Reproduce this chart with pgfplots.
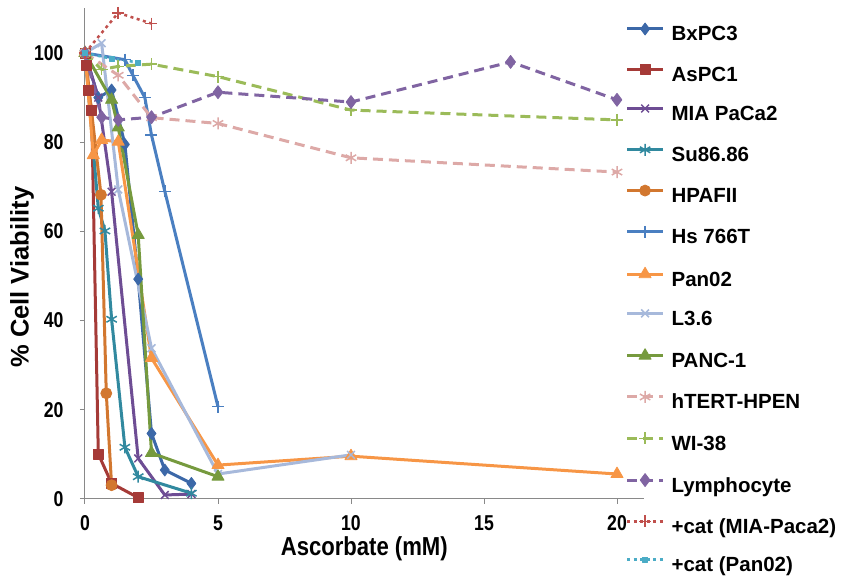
\documentclass[border=0pt]{standalone}
\usepackage{fontspec}
\setmainfont{Liberation Sans}
\newfontfamily\tickfont[FakeStretch=0.82]{Liberation Sans}
\newfontfamily\labfont[FakeStretch=0.85]{Liberation Sans}
\usepackage{pgfplots}
\pgfplotsset{compat=1.18}
\definecolor{axgray}{HTML}{898989}
\definecolor{cBx}{HTML}{3C68A8}
\definecolor{cAs}{HTML}{A53A37}
\definecolor{cMIA}{HTML}{6E4D94}
\definecolor{cSu}{HTML}{31899F}
\definecolor{cHP}{HTML}{D2772F}
\definecolor{cHs}{HTML}{4A7FC1}
\definecolor{cPan}{HTML}{F79646}
\definecolor{cL}{HTML}{A7B9DB}
\definecolor{cPANC}{HTML}{769A3E}
\definecolor{chT}{HTML}{DDA9A7}
\definecolor{cWI}{HTML}{9BBB59}
\definecolor{cLy}{HTML}{8064A2}
\definecolor{cCM}{HTML}{C0504D}
\definecolor{cCP}{HTML}{4BACC6}
\begin{document}
\begin{tikzpicture}
\useasboundingbox (0,0) rectangle (844pt,580pt);
\begin{axis}[
  at={(85pt,81pt)}, anchor=south west,
  x=26.6pt, y=4.46pt,
  xmin=0, xmax=21, ymin=0, ymax=110,
  axis x line*=bottom, axis y line*=left,
  axis line style={draw=axgray, line width=1pt},
  xtick={0,5,10,15,20}, ytick={0,20,40,60,80,100},
  tick align=outside, major tick length=5pt,
  tick style={draw=axgray, line width=1pt},
  ticklabel style={font=\tickfont\bfseries\fontsize{21.5}{21.5}\selectfont},
  yticklabel style={xshift=-13pt},
  xticklabel style={yshift=-8pt},
  /pgf/number format/assume math mode=true,
  clip=false,
  xlabel={Ascorbate (mM)},
  ylabel={\% Cell Viability},
  xlabel style={at={(rel axis cs:0.5,0)}, anchor=center, yshift=-50pt, font=\labfont\bfseries\fontsize{26}{26}\selectfont},
  ylabel style={at={(rel axis cs:0,0.452)}, anchor=center, yshift=63pt, font=\bfseries\fontsize{25.5}{25.5}\selectfont},
  legend cell align=left,
  legend style={at={(rel axis cs:0.974,1)}, anchor=north west, yshift=-14.6pt, xshift=-3.5pt,
    draw=none, fill=none, inner sep=0pt, outer sep=0pt,
    row sep=18.3pt, column sep=7pt,
    nodes={inner sep=0pt, text height=15pt, text depth=5pt, font=\bfseries\fontsize{20.5}{20.5}\selectfont}},
  legend image code/.code={\draw[mark repeat=2,mark phase=2,#1] plot coordinates {(0pt,7pt) (18pt,7pt) (36pt,7pt)};},
  every axis plot/.append style={line width=3pt, line join=round},
]
% BxPC3
\addplot[color=cBx, mark=diamond*, mark size=6pt, mark options={solid, line width=0.8pt}]
 coordinates {(0,100) (0.5,90) (1,91.7) (1.5,79.5) (2,49.3) (2.5,14.7) (3,6.5) (4,3.5)};
\addlegendentry{BxPC3}
% AsPC1
\addplot[color=cAs, mark=square*, mark size=5pt, mark options={solid, line width=0.8pt}]
 coordinates {(0,100) (0.0625,97.3) (0.125,91.7) (0.25,87.2) (0.5,10.1) (1,3.5) (2,0.3)};
\addlegendentry{AsPC1}
% MIA PaCa2
\addplot[color=cMIA, mark=x, mark size=5.5pt, mark options={solid, line width=1.5pt}]
 coordinates {(0,100) (0.5,90) (1,68.9) (2,9.1) (3,0.9) (4,1.1)};
\addlegendentry{MIA PaCa2}
% Su86.86
\addplot[color=cSu, mark=asterisk, mark size=6pt, mark options={solid, line width=1.5pt}]
 coordinates {(0,100) (0.5,65.2) (0.75,60.1) (1,40.3) (1.5,11.6) (2,5.0) (4,1.3)};
\addlegendentry{Su86.86}
% HPAFII
\addplot[color=cHP, mark=*, mark size=5.5pt, mark options={solid, line width=0.8pt}]
 coordinates {(0,100) (0.6,68.2) (0.8,23.7) (1,3.1)};
\addlegendentry{HPAFII}
% Hs 766T
\addplot[color=cHs, mark=+, mark size=6pt, mark options={solid, line width=1.5pt}]
 coordinates {(0,100) (1.5,98.5) (1.8,95) (2.25,90) (2.5,81.6) (3,69) (5,20.7)};
\addlegendentry{Hs 766T}
% Pan02
\addplot[color=cPan, mark=triangle*, mark size=7pt, mark options={solid, line width=0.8pt}]
 coordinates {(0,100) (0.3125,77.1) (0.625,80.5) (1.25,80.1) (2.5,31.6) (5,7.6) (10,9.6) (20,5.6)};
\addlegendentry{Pan02}
% L3.6
\addplot[color=cL, mark=x, mark size=5.5pt, mark options={solid, line width=1.5pt}]
 coordinates {(0,100) (0.625,102.2) (1.25,69.4) (2.5,33.8) (5,5.6) (10,9.9)};
\addlegendentry{L3.6}
% PANC-1
\addplot[color=cPANC, mark=triangle*, mark size=7pt, mark options={solid, line width=0.8pt}]
 coordinates {(0,100) (1,89.5) (1.25,83.3) (2,59.2) (2.5,10.3) (5,5.0)};
\addlegendentry{PANC-1}
% hTERT-HPEN
\addplot[color=chT, dash pattern=on 10pt off 6pt, mark=asterisk, mark size=6pt, mark options={solid, line width=1.5pt}]
 coordinates {(0,100) (1.25,95) (2.5,85.5) (5,84.2) (10,76.5) (20,73.3)};
\addlegendentry{hTERT-HPEN}
% WI-38
\addplot[color=cWI, dash pattern=on 10pt off 6pt, mark=+, mark size=6pt, mark options={solid, line width=1.5pt}]
 coordinates {(0,100) (0.625,96.3) (1.25,97) (2.5,97.5) (5,94.7) (10,87.2) (20,85)};
\addlegendentry{WI-38}
% Lymphocyte
\addplot[color=cLy, dash pattern=on 10pt off 6pt, mark=diamond*, mark size=6.5pt, mark options={solid, line width=0.8pt}]
 coordinates {(0,100) (0.625,85.6) (1.25,85) (2.5,85.6) (5,91.2) (10,89) (16,98) (20,89.5)};
\addlegendentry{Lymphocyte}
% +cat (MIA-Paca2)
\addplot[color=cCM, line width=2.5pt, dash pattern=on 3pt off 3.5pt, mark=+, mark size=6pt, mark options={solid, line width=1.5pt}]
 coordinates {(0,100) (1.25,109) (2.5,106.6)};
\addlegendentry{+cat (MIA-Paca2)}
% +cat (Pan02)
\addplot[color=cCP, line width=2.5pt, dash pattern=on 3pt off 3.5pt, mark=square*, mark size=2.5pt, mark options={solid, line width=0.5pt}]
 coordinates {(0,100) (1,98.7) (2,97.9)};
\addlegendentry{+cat (Pan02)}
\end{axis}
\end{tikzpicture}
\end{document}
